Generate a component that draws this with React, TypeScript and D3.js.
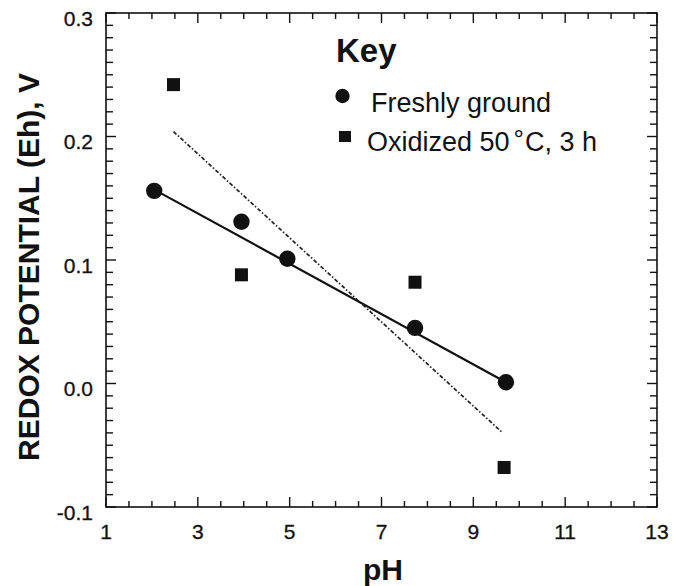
import React from "react";
import * as d3 from "d3";

const freshPH = [2.05, 3.95, 4.95, 7.73, 9.71];
const freshEh = [0.156, 0.131, 0.101, 0.045, 0.001];
const oxidPH = [2.47, 3.95, 7.73, 9.67];
const oxidEh = [0.242, 0.088, 0.082, -0.068];
const freshFitPH = [2.05, 9.71];
const freshFitEh = [0.157, 0.001];
const oxidFitPH = [2.47, 9.64];
const oxidFitEh = [0.204, -0.04];
const xTickLabels = [1, 3, 5, 7, 9, 11, 13];
const yTickLabels = ["-0.1", "0.0", "0.1", "0.2", "0.3"];
const legendLabels = ["Freshly ground", "Oxidized 50", "C, 3 h"];

const W = 680;
const H = 586;
const FONT = "'Liberation Sans', Arial, Helvetica, sans-serif";

export default function App() {
  const x = d3.scaleLinear().domain([1, 13]).range([106, 657]);
  const y = d3.scaleLinear().domain([-0.1, 0.3]).range([507, 13]);
  const [x0, x1] = x.range();
  const [y0, y1] = y.range();

  const xMinor = d3.range(1, 13.001, 0.5);
  const yMinor = d3.range(-0.1, 0.3001, 0.01);

  const line = d3
    .line<[number, number]>()
    .x((d) => x(d[0]))
    .y((d) => y(d[1]));

  const freshFit = freshFitPH.map((p, i) => [p, freshFitEh[i]] as [number, number]);
  const oxidFit = oxidFitPH.map((p, i) => [p, oxidFitEh[i]] as [number, number]);

  const isMajorX = (v: number) => Math.abs((v - 1) / 2 - Math.round((v - 1) / 2)) < 1e-6;
  const isMajorY = (v: number) => Math.abs(v * 10 - Math.round(v * 10)) < 1e-6;

  return (
    <svg
      width={W}
      height={H}
      style={{ position: "absolute", left: 0, top: 0, background: "#fff" }}
      fontFamily={FONT}
    >
      <rect x={0} y={0} width={W} height={H} fill="#fff" />
      {/* frame */}
      <rect
        x={x0}
        y={y1}
        width={x1 - x0}
        height={y0 - y1}
        fill="none"
        stroke="#111"
        strokeWidth={1.6}
      />
      {/* x ticks, bottom and top */}
      {xMinor.map((v, i) => {
        const len = isMajorX(v) ? 10 : 6;
        const px = x(v);
        return (
          <g key={"xt" + i} stroke="#111" strokeWidth={1.4}>
            <line x1={px} x2={px} y1={y0} y2={y0 - len} />
            <line x1={px} x2={px} y1={y1} y2={y1 + len} />
          </g>
        );
      })}
      {/* y ticks, left and right */}
      {yMinor.map((v, i) => {
        const len = isMajorY(v) ? 10 : 7;
        const py = y(v);
        return (
          <g key={"yt" + i} stroke="#111" strokeWidth={1.4}>
            <line x1={x0} x2={x0 + len} y1={py} y2={py} />
            <line x1={x1} x2={x1 - len} y1={py} y2={py} />
          </g>
        );
      })}
      {/* x tick labels */}
      {xTickLabels.map((v) => (
        <text
          key={"xl" + v}
          x={x(v)}
          y={539}
          fontSize={21}
          textAnchor="middle"
          fill="#111"
          stroke="#111"
          strokeWidth={0.3}
        >
          {v}
        </text>
      ))}
      {/* y tick labels */}
      {yTickLabels.map((s) => (
        <text
          key={"yl" + s}
          x={93}
          y={y(parseFloat(s)) + 12.5}
          fontSize={21}
          textAnchor="end"
          fill="#111"
          stroke="#111"
          strokeWidth={0.3}
        >
          {s}
        </text>
      ))}
      {/* axis titles */}
      <text
        x={383}
        y={580}
        fontSize={30}
        fontWeight="bold"
        textAnchor="middle"
        fill="#111"
      >
        pH
      </text>
      <text
        transform="translate(39,267) rotate(-90)"
        fontSize={30}
        fontWeight="bold"
        textAnchor="middle"
        fill="#111"
      >
        REDOX POTENTIAL (Eh), V
      </text>
      {/* fit lines */}
      <path d={line(freshFit) || ""} fill="none" stroke="#111" strokeWidth={2.2} />
      <path
        d={line(oxidFit) || ""}
        fill="none"
        stroke="#222"
        strokeWidth={1.7}
        strokeDasharray="4,2,1.5,2"
      />
      {/* points */}
      {freshPH.map((p, i) => (
        <circle key={"c" + i} cx={x(p)} cy={y(freshEh[i])} r={8.2} fill="#111" />
      ))}
      {oxidPH.map((p, i) => (
        <rect
          key={"s" + i}
          x={x(p) - 6.5}
          y={y(oxidEh[i]) - 6.5}
          width={13}
          height={13}
          fill="#111"
        />
      ))}
      {/* legend */}
      <text x={336} y={62} fontSize={33} fontWeight="bold" fill="#111">
        Key
      </text>
      <circle cx={342.5} cy={96} r={7.2} fill="#111" />
      <text x={371} y={111.5} fontSize={27} fill="#111">
        {legendLabels[0]}
      </text>
      <rect x={339} y={131} width={12} height={11} fill="#111" />
      <text x={367} y={151} fontSize={27} fill="#111">
        {legendLabels[1]}
        <tspan dx={4} dy={-3} fontSize={26}>
          °
        </tspan>
        <tspan dy={3} dx={1}>{legendLabels[2]}</tspan>
      </text>
    </svg>
  );
}
